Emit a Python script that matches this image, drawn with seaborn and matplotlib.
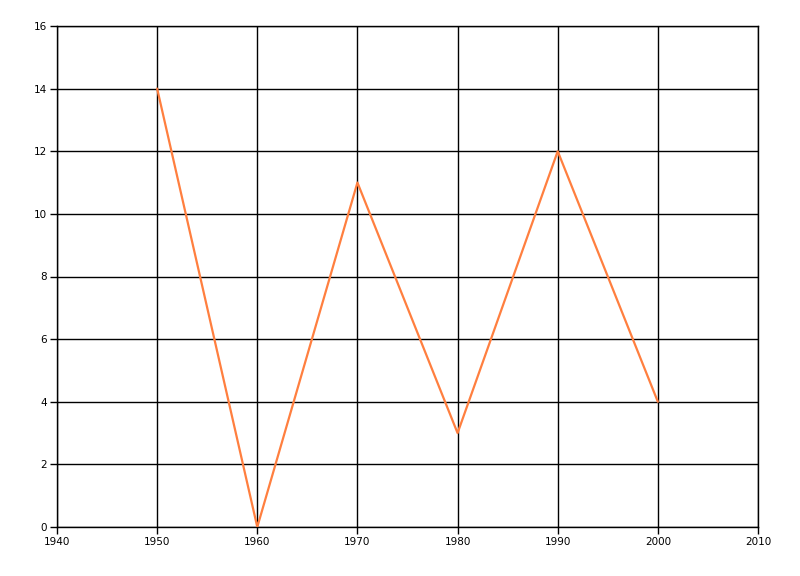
import matplotlib
matplotlib.use("Agg")
import matplotlib.pyplot as plt
import seaborn as sns
import pandas as pd

years = [1950, 1960, 1970, 1980, 1990, 2000]
values = [14, 0, 11, 3, 12, 4]
x_ticks = [1940, 1950, 1960, 1970, 1980, 1990, 2000, 2010]
y_ticks = [0, 2, 4, 6, 8, 10, 12, 14, 16]

df = pd.DataFrame({"year": years, "value": values})

sns.set_style("white")
plt.rcParams['font.family'] = ['DejaVu Sans']

fig = plt.figure(figsize=(8, 5.76), dpi=100)
ax = fig.add_axes([57/800, 49/576, (758-57)/800, (527-26)/576])

sns.lineplot(data=df, x="year", y="value", ax=ax, color="#FF7F3F", linewidth=1.6, zorder=3)

ax.set_xlim(1940, 2010)
ax.set_ylim(0, 16)
ax.set_xticks(x_ticks)
ax.set_yticks(y_ticks)
ax.grid(True, color="black", linewidth=1.0)
ax.set_axisbelow(True)
for s in ax.spines.values():
    s.set_visible(True)
    s.set_color('black')
    s.set_linewidth(1.0)
ax.tick_params(axis='both', direction='out', length=5, width=1, color='black',
               labelsize=7.5, labelcolor='black', pad=2, left=True, bottom=True)
ax.set_xlabel("")
ax.set_ylabel("")

fig.savefig("out.png", dpi=100)
